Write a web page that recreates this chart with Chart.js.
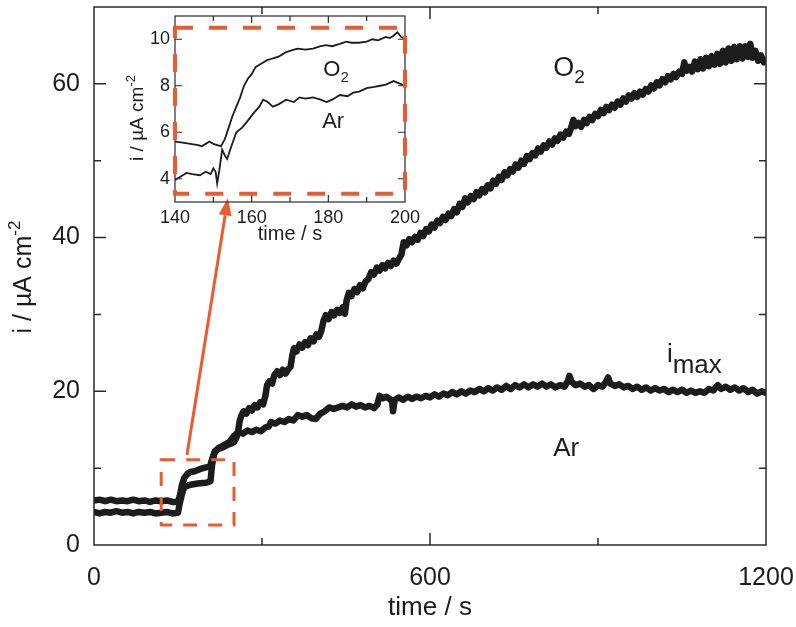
<!DOCTYPE html>
<html>
<head>
<meta charset="utf-8">
<title>Current transient</title>
<script src="https://cdn.jsdelivr.net/npm/chart.js@4.4.1/dist/chart.umd.min.js"></script>
<style>
  html, body { margin: 0; padding: 0; background: #fff; }
  #wrap { position: relative; width: 796px; height: 627px; }
  #main { position: absolute; left: 0; top: 0; }
  #inset { position: absolute; left: 100px; top: 12px; }
</style>
</head>
<body>
<div id="wrap">
  <canvas id="main" width="796" height="627"></canvas>
  <canvas id="inset" width="320" height="240"></canvas>
</div>
<script>
// main chart, O2 saturated
const o2Time = [0, 10, 20, 30, 40, 50, 60, 70, 80, 90,
  100, 110, 120, 130, 140, 150, 153, 157, 161, 166,
  172, 180, 190, 200, 207, 211, 216, 222, 230, 238,
  245,
  250, 254, 257, 260, 263, 267, 272, 277, 282, 287,
  292, 297, 302, 306, 309, 313, 318, 322, 327, 332,
  337, 342, 347, 351, 354, 357, 362, 367, 372, 377,
  382, 387, 392, 397, 402, 406, 410, 414, 419, 424,
  429, 434, 439, 444, 448, 451, 455, 460, 465, 470,
  475, 480, 485, 490, 495, 500, 505, 510, 515, 520,
  525, 530, 535, 540, 545, 549, 553, 558, 563, 568,
  573, 578, 583, 588, 593, 598, 603, 608, 613, 618,
  623, 628, 633, 638, 643, 648, 653, 658, 663, 668,
  673, 678, 683, 688, 693, 698, 703, 708, 713, 718,
  723, 728, 733, 738, 743, 748, 753, 758, 763, 768,
  773, 778, 783, 788, 793, 798, 803, 808, 813, 818,
  823, 828, 833, 838, 843, 848, 852, 856, 860, 865,
  870, 875, 880, 885, 890, 895, 900, 905, 910, 915,
  920, 925, 930, 935, 940, 945, 950, 955, 960, 965,
  970, 975, 980, 985, 990, 995, 1000, 1005, 1010, 1015,
  1020, 1025, 1030, 1035, 1040, 1045, 1050, 1054, 1058, 1063,
  1068, 1073, 1078, 1083, 1088, 1093, 1098, 1103, 1108, 1113,
  1118, 1123, 1128, 1133, 1138, 1143, 1148, 1153, 1158, 1163,
  1168, 1172, 1176, 1181, 1186, 1191, 1196, 1200];
const o2Current = [5.8, 5.9, 5.7, 5.9, 5.7, 5.8, 5.7, 5.9, 5.7, 5.8,
  5.6, 5.8, 5.7, 5.8, 5.6, 5.6, 6.3, 7.8, 8.7, 9.2,
  9.5, 9.6, 9.9, 10.1, 10.2, 11.2, 12.2, 12.5, 12.7, 13.0,
  13.2,
  13.4, 13.9, 14.6, 16.1, 16.8, 17.4, 17.1, 17.8, 17.5, 18.2,
  17.9, 18.6, 18.3, 19.4, 20.8, 21.3, 21.0, 22.1, 22.6, 22.1,
  22.8, 22.3, 22.9, 23.2, 24.6, 25.6, 25.2, 26.1, 25.7, 26.4,
  26.0, 26.9, 26.5, 27.4, 27.1, 27.9, 29.2, 29.9, 29.4, 30.3,
  29.9, 30.6, 30.2, 30.9, 30.1, 31.8, 32.8, 32.4, 33.3, 32.9,
  33.8, 33.4, 34.3, 34.6, 35.5, 35.2, 36.1, 35.7, 36.4, 36.0,
  36.7, 36.3, 37.0, 36.6, 37.3, 37.8, 39.4, 39.0, 39.8, 39.4,
  40.1, 39.7, 40.6, 40.2, 41.1, 40.8, 41.7, 41.3, 42.2, 41.9,
  42.7, 42.3, 43.1, 42.8, 43.7, 43.3, 44.4, 44.0, 45.1, 44.6,
  45.4, 45.0, 45.9, 45.5, 46.3, 45.9, 46.8, 46.4, 47.4, 47.0,
  47.9, 47.5, 48.5, 48.1, 48.9, 48.6, 49.5, 49.1, 50.0, 49.6,
  50.6, 50.2, 51.0, 50.7, 51.6, 51.2, 52.0, 51.7, 52.5, 52.1,
  52.9, 52.6, 53.4, 53.0, 53.8, 53.5, 54.3, 55.3, 54.5, 54.9,
  54.4, 55.3, 54.9, 55.7, 55.3, 56.1, 55.8, 56.6, 56.2, 57.0,
  56.6, 57.3, 56.9, 57.7, 57.3, 58.1, 57.7, 58.5, 58.1, 58.8,
  58.3, 59.0, 58.6, 59.3, 59.0, 59.8, 59.4, 60.2, 59.8, 60.6,
  60.2, 61.0, 60.6, 61.3, 60.9, 61.6, 61.3, 62.8, 61.7, 62.2,
  61.6, 62.9, 61.9, 63.2, 62.0, 63.4, 62.3, 63.6, 62.5, 63.9,
  62.6, 64.3, 62.8, 64.6, 63.0, 64.8, 63.2, 64.9, 63.3, 64.9,
  63.5, 65.2, 63.4, 64.3, 63.0, 63.7, 62.8, 63.0];

// main chart, Ar saturated
const arTime = [0, 10, 20, 30, 40, 50, 60, 70, 80, 90,
  100, 110, 120, 130, 140, 150, 153, 157, 161, 170,
  185, 200, 208, 211, 215, 222, 232, 242, 250, 258,
  266, 274, 282, 290, 298, 306, 312, 316, 324, 332,
  340, 348, 356, 364, 372, 380, 388, 396, 404, 412,
  420, 428, 436, 444, 452, 460, 468, 476, 484, 492,
  500, 506, 510, 516, 522, 528, 532, 534, 537, 544,
  552, 560, 568, 576, 584, 592, 600, 608, 616, 624,
  632, 640, 648, 656, 664, 672, 680, 688, 696, 704,
  712, 720, 728, 736, 744, 752, 760, 768, 776, 784,
  792, 800, 808, 816, 824, 832, 840, 846, 849, 853,
  860, 868, 876, 884, 892, 900, 908, 914, 918, 922,
  930, 938, 946, 954, 962, 970, 978, 986, 994, 1002,
  1010, 1018, 1026, 1034, 1042, 1050, 1058, 1066, 1074, 1082,
  1090, 1098, 1106, 1114, 1120, 1128, 1136, 1144, 1152, 1160,
  1168, 1176, 1184, 1192, 1200];
const arCurrent = [4.3, 4.1, 4.3, 4.2, 4.4, 4.2, 4.3, 4.1, 4.3, 4.2,
  4.3, 4.1, 4.2, 4.3, 4.1, 4.2, 5.4, 6.6, 7.5, 7.8,
  8.0, 8.1, 8.3, 10.5, 12.0, 12.6, 13.0, 13.4, 14.2, 14.7,
  14.5, 14.9, 14.7, 15.0, 14.8, 15.3, 15.4, 16.0, 15.8, 16.2,
  16.0, 16.4, 16.2, 16.9, 16.7, 16.9, 16.5, 16.4, 17.1, 17.4,
  17.9, 17.7, 17.9, 18.1, 17.9, 18.3, 18.0, 18.2, 17.9, 18.1,
  17.8, 18.3, 19.4, 19.1, 19.3, 19.0, 18.8, 17.4, 18.9, 19.2,
  18.9, 19.3, 19.0, 19.3, 19.1, 19.4, 19.2, 19.6, 19.3, 19.7,
  19.5, 19.9, 19.6, 20.0, 19.7, 20.1, 19.9, 20.3, 20.0, 20.4,
  20.1, 20.5, 20.2, 20.7, 20.3, 20.8, 20.5, 20.9, 20.5, 20.9,
  20.6, 21.0, 20.6, 20.9, 20.5, 20.8, 20.6, 21.3, 22.0, 21.2,
  20.8, 21.0, 20.6, 20.8, 20.3, 20.8, 20.6, 21.2, 21.8, 21.0,
  20.7, 20.9, 20.5, 20.7, 20.3, 20.6, 20.2, 20.5, 20.1, 20.4,
  20.1, 20.3, 19.9, 20.2, 19.9, 20.2, 19.8, 20.1, 19.8, 20.0,
  19.8, 20.3, 20.1, 20.8, 20.3, 20.6, 20.2, 20.5, 20.1, 20.4,
  19.9, 20.2, 19.7, 20.0, 19.8];

// inset, 140-200 s
const insetO2Time = [140, 142, 144, 146, 147, 148, 149, 150, 151, 152, 153, 154, 155, 156, 157, 158, 159, 160, 161, 162,
  163, 164, 165, 166, 167, 168, 169, 170, 171, 172, 174, 176, 178, 179.5, 181, 183, 184.7, 186, 188, 190,
  191.5, 193, 195, 196, 197, 198, 199, 200];
const insetO2Current = [5.6, 5.55, 5.5, 5.45, 5.4, 5.5, 5.6, 5.5, 5.45, 5.4, 5.7, 6.2, 6.7, 7.1, 7.5, 8.0, 8.3, 8.5, 8.8, 8.9,
  9.0, 9.1, 9.15, 9.2, 9.25, 9.35, 9.45, 9.5, 9.55, 9.6, 9.55, 9.6, 9.7, 9.75, 9.7, 9.8, 9.9, 9.85, 9.85, 9.9,
  10.0, 9.95, 10.1, 10.05, 10.15, 10.3, 10.1, 10.0];
const insetArTime = [140, 141.5, 143, 144.5, 146.5, 148, 149.3, 150, 150.6, 151, 151.6, 152.3, 153, 153.6, 154.5, 156, 157.5, 159, 160.4, 162,
  163, 164.2, 165.5, 167, 169, 171, 172.5, 174, 176, 178, 179.5, 181, 183, 185, 186.5, 188, 190, 192,
  193.5, 195, 197, 198.5, 200];
const insetArCurrent = [3.95, 4.1, 4.25, 4.2, 4.15, 4.3, 4.2, 4.45, 4.3, 3.8, 4.4, 5.25, 5.0, 4.85, 5.3, 6.0, 6.2, 6.5, 6.8, 7.1,
  7.4, 7.3, 7.1, 7.2, 7.4, 7.3, 7.5, 7.45, 7.5, 7.4, 7.3, 7.4, 7.6, 7.55, 7.7, 7.75, 7.9, 7.95,
  8.0, 8.05, 8.2, 8.1, 8.0];

// zoom box on the main chart and the arrow towards the inset (data units)
const boxTime = [120, 250];
const boxCurrent = [2.6, 11.1];
const arrowTime = [166, 239];
const arrowCurrent = [11.7, 45.1];
const insetBoxTime = [140, 200];
const insetBoxCurrent = [3.35, 10.5];

const FONT = "'Liberation Sans', Arial, Helvetica, sans-serif";
const INK = '#1c1c1c';
const RED = '#ec5a2f';

function toPoints(xs, ys) {
  return xs.map((x, i) => ({ x: x, y: ys[i] }));
}

// fixed axis band, no extra room for overhanging labels
function fixBand(prop, size) {
  return s => {
    s[prop] = size;
    s.paddingLeft = s.paddingRight = s.paddingTop = s.paddingBottom = 0;
  };
}

// inward ticks on all four sides plus the frame
const frameTicks = {
  id: 'frameTicks',
  afterDatasetsDraw(chart, args, opts) {
    const { ctx, chartArea: a, scales: { x, y } } = chart;
    const isMajor = (v, step) => Math.abs(v / step - Math.round(v / step)) < 1e-6;
    ctx.save();
    ctx.strokeStyle = '#2a2a2a';
    ctx.lineWidth = opts.lineWidth;
    ctx.strokeRect(a.left, a.top, a.right - a.left, a.bottom - a.top);
    ctx.beginPath();
    x.ticks.forEach(t => {
      if (t.value <= x.min || t.value >= x.max) return;
      const len = isMajor(t.value, opts.xStep) ? opts.majorLen : opts.xMinorLen;
      const px = x.getPixelForValue(t.value);
      ctx.moveTo(px, a.bottom); ctx.lineTo(px, a.bottom - len);
      ctx.moveTo(px, a.top); ctx.lineTo(px, a.top + len);
    });
    y.ticks.forEach(t => {
      if (t.value <= y.min || t.value >= y.max) return;
      const len = isMajor(t.value, opts.yStep) ? opts.majorLen : opts.yMinorLen;
      const py = y.getPixelForValue(t.value);
      ctx.moveTo(a.left, py); ctx.lineTo(a.left + len, py);
      ctx.moveTo(a.right, py); ctx.lineTo(a.right - len, py);
    });
    ctx.stroke();
    ctx.restore();
  }
};

// text with a raised or lowered tail, e.g. cm^-2 or O_2
function drawPieces(ctx, pieces, x, y) {
  let cx = x;
  pieces.forEach(p => {
    ctx.font = p.size + 'px ' + FONT;
    ctx.fillText(p.text, cx, y + (p.dy || 0));
    cx += ctx.measureText(p.text).width;
  });
}
function piecesWidth(ctx, pieces) {
  let w = 0;
  pieces.forEach(p => {
    ctx.font = p.size + 'px ' + FONT;
    w += ctx.measureText(p.text).width;
  });
  return w;
}

function dashedBox(ctx, x, y, xs, ys, width, dash) {
  const x0 = x.getPixelForValue(xs[0]), x1 = x.getPixelForValue(xs[1]);
  const y0 = y.getPixelForValue(ys[0]), y1 = y.getPixelForValue(ys[1]);
  ctx.save();
  ctx.strokeStyle = RED;
  ctx.lineWidth = width;
  ctx.setLineDash(dash);
  ctx.strokeRect(x0, y1, x1 - x0, y0 - y1);
  ctx.restore();
}

const mainDecor = {
  id: 'mainDecor',
  afterDraw(chart) {
    const { ctx, chartArea: a, scales: { x, y } } = chart;
    dashedBox(ctx, x, y, boxTime, boxCurrent, 3, [14, 11]);

    // arrow
    const sx = x.getPixelForValue(arrowTime[0]), sy = y.getPixelForValue(arrowCurrent[0]);
    const ex = x.getPixelForValue(arrowTime[1]), ey = y.getPixelForValue(arrowCurrent[1]);
    const ang = Math.atan2(ey - sy, ex - sx);
    const head = 17, half = 6.5;
    ctx.save();
    ctx.strokeStyle = RED;
    ctx.fillStyle = RED;
    ctx.lineWidth = 3;
    ctx.beginPath();
    ctx.moveTo(sx, sy);
    ctx.lineTo(ex - Math.cos(ang) * head, ey - Math.sin(ang) * head);
    ctx.stroke();
    ctx.beginPath();
    ctx.moveTo(ex, ey);
    ctx.lineTo(ex - Math.cos(ang) * head - Math.sin(ang) * half, ey - Math.sin(ang) * head + Math.cos(ang) * half);
    ctx.lineTo(ex - Math.cos(ang) * head + Math.sin(ang) * half, ey - Math.sin(ang) * head - Math.cos(ang) * half);
    ctx.closePath();
    ctx.fill();
    ctx.restore();

    ctx.save();
    ctx.fillStyle = INK;
    ctx.textBaseline = 'alphabetic';
    ctx.textAlign = 'left';
    drawPieces(ctx, [{ text: 'O', size: 27 }, { text: '2', size: 19, dy: 7 }], x.getPixelForValue(820), y.getPixelForValue(61.0));
    drawPieces(ctx, [{ text: 'Ar', size: 26 }], x.getPixelForValue(820), y.getPixelForValue(11.6));
    drawPieces(ctx, [{ text: 'i', size: 26 }, { text: 'max', size: 26, dy: 11 }], x.getPixelForValue(1023), y.getPixelForValue(23.8));

    // axis titles
    ctx.font = '26px ' + FONT;
    ctx.textAlign = 'center';
    ctx.fillText('time / s', (a.left + a.right) / 2, 615);
    ctx.textAlign = 'left';
    const yt = [{ text: 'i / \u00b5A cm', size: 25 }, { text: '-2', size: 17, dy: -11 }];
    ctx.translate(31, 277);
    ctx.rotate(-Math.PI / 2);
    drawPieces(ctx, yt, -piecesWidth(ctx, yt) / 2, 0);
    ctx.restore();
  }
};

const insetDecor = {
  id: 'insetDecor',
  afterDraw(chart) {
    const { ctx, chartArea: a, scales: { x, y } } = chart;
    dashedBox(ctx, x, y, insetBoxTime, insetBoxCurrent, 4, [18, 16]);
    ctx.save();
    ctx.fillStyle = INK;
    ctx.textAlign = 'left';
    drawPieces(ctx, [{ text: 'O', size: 22 }, { text: '2', size: 15, dy: 6 }], x.getPixelForValue(178.7), y.getPixelForValue(8.4));
    drawPieces(ctx, [{ text: 'Ar', size: 22 }], x.getPixelForValue(178.4), y.getPixelForValue(6.2));
    ctx.font = '20px ' + FONT;
    ctx.textAlign = 'center';
    ctx.fillText('time / s', (a.left + a.right) / 2, 228);
    ctx.textAlign = 'left';
    const yt = [{ text: 'i / \u00b5A cm', size: 19 }, { text: '-2', size: 13, dy: -8 }];
    ctx.translate(43, 106);
    ctx.rotate(-Math.PI / 2);
    drawPieces(ctx, yt, -piecesWidth(ctx, yt) / 2, 0);
    ctx.restore();
  }
};

Chart.defaults.font.family = FONT;
Chart.defaults.color = INK;

new Chart(document.getElementById('main'), {
  type: 'line',
  data: {
    datasets: [
      { label: 'O2', data: toPoints(o2Time, o2Current), borderColor: INK, borderWidth: 6.5,
        pointRadius: 0, tension: 0, borderJoinStyle: 'round', borderCapStyle: 'round' },
      { label: 'Ar', data: toPoints(arTime, arCurrent), borderColor: INK, borderWidth: 6.5,
        pointRadius: 0, tension: 0, borderJoinStyle: 'round', borderCapStyle: 'round' }
    ]
  },
  options: {
    responsive: false,
    animation: false,
    events: [],
    layout: { padding: { top: 7, right: 30, left: 0, bottom: 0 } },
    plugins: {
      legend: { display: false },
      tooltip: { enabled: false },
      frameTicks: { lineWidth: 1.5, majorLen: 12, xMinorLen: 7, yMinorLen: 7, xStep: 600, yStep: 20 }
    },
    scales: {
      x: {
        type: 'linear', min: 0, max: 1200,
        grid: { display: false, drawTicks: false },
        border: { display: false },
        ticks: { stepSize: 300, padding: 18, maxRotation: 0, font: { size: 25 },
          callback: v => (v % 600 === 0 ? v : '') },
        afterFit: fixBand('height', 82)
      },
      y: {
        min: 0, max: 70,
        grid: { display: false, drawTicks: false },
        border: { display: false },
        ticks: { stepSize: 10, padding: 14, font: { size: 25 },
          callback: v => (v % 20 === 0 ? v : '') },
        afterFit: fixBand('width', 94)
      }
    }
  },
  plugins: [frameTicks, mainDecor]
});

new Chart(document.getElementById('inset'), {
  type: 'line',
  data: {
    datasets: [
      { label: 'O2', data: toPoints(insetO2Time, insetO2Current), borderColor: INK, borderWidth: 1.8,
        pointRadius: 0, tension: 0 },
      { label: 'Ar', data: toPoints(insetArTime, insetArCurrent), borderColor: INK, borderWidth: 1.8,
        pointRadius: 0, tension: 0 }
    ]
  },
  options: {
    responsive: false,
    animation: false,
    events: [],
    layout: { padding: { top: 4, right: 15, left: 0, bottom: 0 } },
    plugins: {
      legend: { display: false },
      tooltip: { enabled: false },
      frameTicks: { lineWidth: 1.2, majorLen: 7, xMinorLen: 5, yMinorLen: 0, xStep: 20, yStep: 2 }
    },
    scales: {
      x: {
        type: 'linear', min: 140, max: 200,
        grid: { display: false, drawTicks: false },
        border: { display: false },
        ticks: { stepSize: 10, padding: 5, maxRotation: 0, autoSkip: false, font: { size: 18 },
          callback: v => (v % 20 === 0 ? v : '') },
        afterFit: fixBand('height', 50)
      },
      y: {
        min: 3, max: 11,
        grid: { display: false, drawTicks: false },
        border: { display: false },
        ticks: { stepSize: 1, padding: 5, autoSkip: false, font: { size: 18 },
          callback: v => (v % 2 === 0 && v > 3 && v < 11 ? v : '') },
        afterFit: fixBand('width', 75)
      }
    }
  },
  plugins: [frameTicks, insetDecor]
});
</script>
</body>
</html>
